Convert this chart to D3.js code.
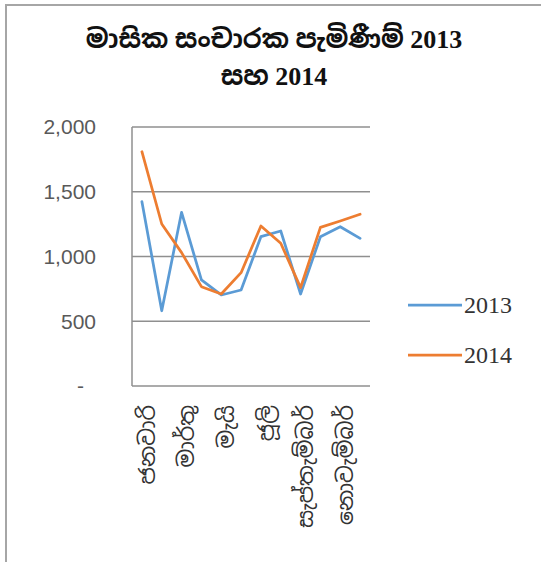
<!DOCTYPE html>
<html><head><meta charset="utf-8">
<script src="https://cdn.jsdelivr.net/npm/d3@7"></script>
<style>html,body{margin:0;padding:0;background:#fff;}svg{display:block;}</style>
</head><body>
<script>
const months = ["ජනවාරි","පෙබරවාරි","මාර්තු","අප්‍රේල්","මැයි","ජූනි","ජූලි","අගෝස්තු","සැප්තැම්බර්","ඔක්තෝබර්","නොවැම්බර්","දෙසැම්බර්"];
const series2013 = [1423, 581, 1341, 819, 703, 741, 1153, 1197, 710, 1153, 1230, 1140];
const series2014 = [1809, 1251, 1030, 767, 710, 875, 1236, 1102, 760, 1225, 1274, 1326];
const yTicks = [0, 500, 1000, 1500, 2000];
const seriesNames = ["2013", "2014"];
const colors = ["#5b9bd5", "#ed7d31"];
const titleLines = ["මාසික සංචාරක පැමිණීම් 2013", "සහ 2014"];

const W = 541, H = 562;
const svg = d3.select("body").append("svg").attr("width", W).attr("height", H);

// frame
svg.append("path").attr("d", `M6,${H} V5 H${W}`).attr("fill","none").attr("stroke","#a6a6a6").attr("stroke-width",2);

const x0 = 132, x1 = 370, yTop = 127, yBot = 386;
const x = d3.scaleBand().domain(months).range([x0, x1]);
const y = d3.scaleLinear().domain([0, 2000]).range([yBot, yTop]);

// gridlines
svg.append("g").selectAll("line").data(yTicks.filter(d=>d>0)).join("line")
  .attr("x1", x0).attr("x2", x1).attr("y1", d=>y(d)).attr("y2", d=>y(d))
  .attr("stroke","#8f8f8f").attr("stroke-width",1.5);

// axes lines
svg.append("line").attr("x1",x0).attr("x2",x0).attr("y1",yTop).attr("y2",yBot).attr("stroke","#8f8f8f").attr("stroke-width",1.5);
svg.append("line").attr("x1",x0).attr("x2",x1).attr("y1",yBot).attr("y2",yBot).attr("stroke","#8f8f8f").attr("stroke-width",1.5);

// y labels
const fmt = d3.format(",");
svg.append("g").selectAll("text").data(yTicks).join("text")
  .attr("x", d => d===0 ? 84 : 96).attr("y", d=>y(d)).attr("dy","0.35em")
  .attr("text-anchor","end").attr("fill","#595959")
  .style("font-family","'Liberation Sans', Arial, sans-serif").style("font-size","21px")
  .text(d => d===0 ? "-" : fmt(d));

// x labels
svg.append("g").selectAll("text").data(months.filter((d,i)=>i%2===0)).join("text")
  .attr("transform", d => `translate(${x(d)+x.bandwidth()/2+5},${yBot+19}) rotate(-90)`)
  .attr("text-anchor","end").attr("dy","0.35em").attr("fill","#333")
  .style("font-family","'Noto Sans Sinhala','Iskoola Pota',sans-serif").style("font-size","22px")
  .text(d=>d);

// lines
const line = d3.line().x((d,i)=>x(months[i])+x.bandwidth()/2).y(d=>y(d));
[series2013, series2014].forEach((s,k)=>{
  svg.append("path").datum(s).attr("d", line).attr("fill","none")
    .attr("stroke", colors[k]).attr("stroke-width",2.75).attr("stroke-linejoin","round").attr("stroke-linecap","round");
});

// legend
const legY = [305, 355];
seriesNames.forEach((n,k)=>{
  svg.append("line").attr("x1",408).attr("x2",462).attr("y1",legY[k]).attr("y2",legY[k]).attr("stroke",colors[k]).attr("stroke-width",2.75);
  svg.append("text").attr("x",464).attr("y",legY[k]).attr("dy","0.35em").attr("fill","#333")
    .style("font-family","'Liberation Serif', serif").style("font-size","24px").text(n);
});

// title
svg.append("g").selectAll("text").data(titleLines).join("text")
  .attr("x", 274).attr("y",(d,i)=>48+i*37).attr("text-anchor","middle").attr("fill","#111")
  .style("font-family","'Liberation Serif','Noto Sans Sinhala','Iskoola Pota',serif").style("font-weight","bold").style("font-size","26px")
  .text(d=>d);
</script>
</body></html>
